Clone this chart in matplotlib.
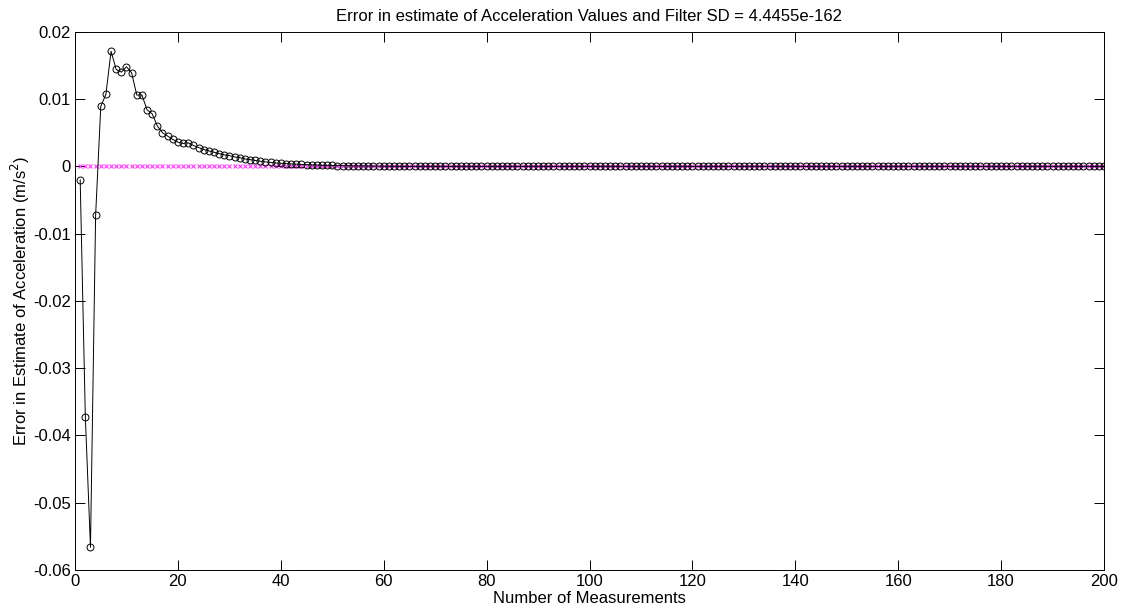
#!/usr/bin/env python3
"""
Plot the error in the filter's acceleration estimate against the number of
measurements, with the true (zero) error shown as a reference.
"""

import matplotlib
matplotlib.use("Agg")
import matplotlib.pyplot as plt

plt.rcParams["font.family"] = ["Liberation Sans", "DejaVu Sans"]

# Estimated acceleration error for measurements 1..60
accel_err_head = [
    -0.0020, -0.0372, -0.0566, -0.0073, 0.0089, 0.0107, 0.0171, 0.0144, 0.0140, 0.0148,
    0.0139, 0.0106, 0.0106, 0.0084, 0.0078, 0.0060, 0.0050, 0.0045, 0.0040, 0.0036,
    0.0034, 0.0035, 0.0031, 0.0028, 0.0025, 0.0023, 0.0021, 0.0019, 0.0017, 0.0016,
    0.0014, 0.0013, 0.0011, 0.0010, 0.00088, 0.00076, 0.00066, 0.00058, 0.00050, 0.00045,
    0.00040, 0.00036, 0.00032, 0.00028, 0.00025, 0.00022, 0.00020, 0.00017, 0.00015, 0.00013,
    0.00011, 0.00010, 0.00008, 0.00007, 0.00006, 0.00005, 0.00004, 0.00003, 0.00003, 0.00002,
]
# Measurements 61..200 have settled to zero
accel_err_tail = [
    0.0, 0.0, 0.0, 0.0, 0.0, 0.0, 0.0, 0.0, 0.0, 0.0, 0.0, 0.0, 0.0, 0.0,
    0.0, 0.0, 0.0, 0.0, 0.0, 0.0, 0.0, 0.0, 0.0, 0.0, 0.0, 0.0, 0.0, 0.0,
    0.0, 0.0, 0.0, 0.0, 0.0, 0.0, 0.0, 0.0, 0.0, 0.0, 0.0, 0.0, 0.0, 0.0,
    0.0, 0.0, 0.0, 0.0, 0.0, 0.0, 0.0, 0.0, 0.0, 0.0, 0.0, 0.0, 0.0, 0.0,
    0.0, 0.0, 0.0, 0.0, 0.0, 0.0, 0.0, 0.0, 0.0, 0.0, 0.0, 0.0, 0.0, 0.0,
    0.0, 0.0, 0.0, 0.0, 0.0, 0.0, 0.0, 0.0, 0.0, 0.0, 0.0, 0.0, 0.0, 0.0,
    0.0, 0.0, 0.0, 0.0, 0.0, 0.0, 0.0, 0.0, 0.0, 0.0, 0.0, 0.0, 0.0, 0.0,
    0.0, 0.0, 0.0, 0.0, 0.0, 0.0, 0.0, 0.0, 0.0, 0.0, 0.0, 0.0, 0.0, 0.0,
    0.0, 0.0, 0.0, 0.0, 0.0, 0.0, 0.0, 0.0, 0.0, 0.0, 0.0, 0.0, 0.0, 0.0,
    0.0, 0.0, 0.0, 0.0, 0.0, 0.0, 0.0, 0.0, 0.0, 0.0, 0.0, 0.0, 0.0, 0.0,
]
accel_err = accel_err_head + accel_err_tail
measurements = list(range(1, len(accel_err) + 1))

# True error is zero at every measurement
true_err = [0.0 for _ in measurements]

x_ticks = [0, 20, 40, 60, 80, 100, 120, 140, 160, 180, 200]
y_ticks = [-0.06, -0.05, -0.04, -0.03, -0.02, -0.01, 0.0, 0.01, 0.02]
y_tick_labels = ["-0.06", "-0.05", "-0.04", "-0.03", "-0.02", "-0.01", "0", "0.01", "0.02"]

fig = plt.figure(figsize=(11.25, 6.11), dpi=100)
ax = fig.add_axes([0.0667, 0.067, 0.9146, 0.881])

ax.plot(measurements, true_err, linestyle="none", marker="x", color="#ff33ff",
        markersize=3.5, markeredgewidth=0.8)
ax.plot(measurements, accel_err, color="black", linewidth=0.7, marker="o",
        markersize=5, markerfacecolor="none", markeredgecolor="black",
        markeredgewidth=0.7)

ax.set_xlim(0, 200)
ax.set_ylim(-0.06, 0.02)
ax.set_xticks(x_ticks)
ax.set_yticks(y_ticks)
ax.set_yticklabels(y_tick_labels)
ax.tick_params(direction="in", top=True, right=True, length=7, width=0.7,
               labelsize=12, pad=3)
for s in ax.spines.values():
    s.set_linewidth(0.7)

ax.set_title("Error in estimate of Acceleration Values and Filter SD = 4.4455e-162",
             fontsize=12, pad=8)
ax.set_xlabel("Number of Measurements", fontsize=12, labelpad=1)
ax.set_ylabel("Error in Estimate of Acceleration (m/s$^2$)", fontsize=12, labelpad=1)

fig.savefig("out.png", dpi=100)
